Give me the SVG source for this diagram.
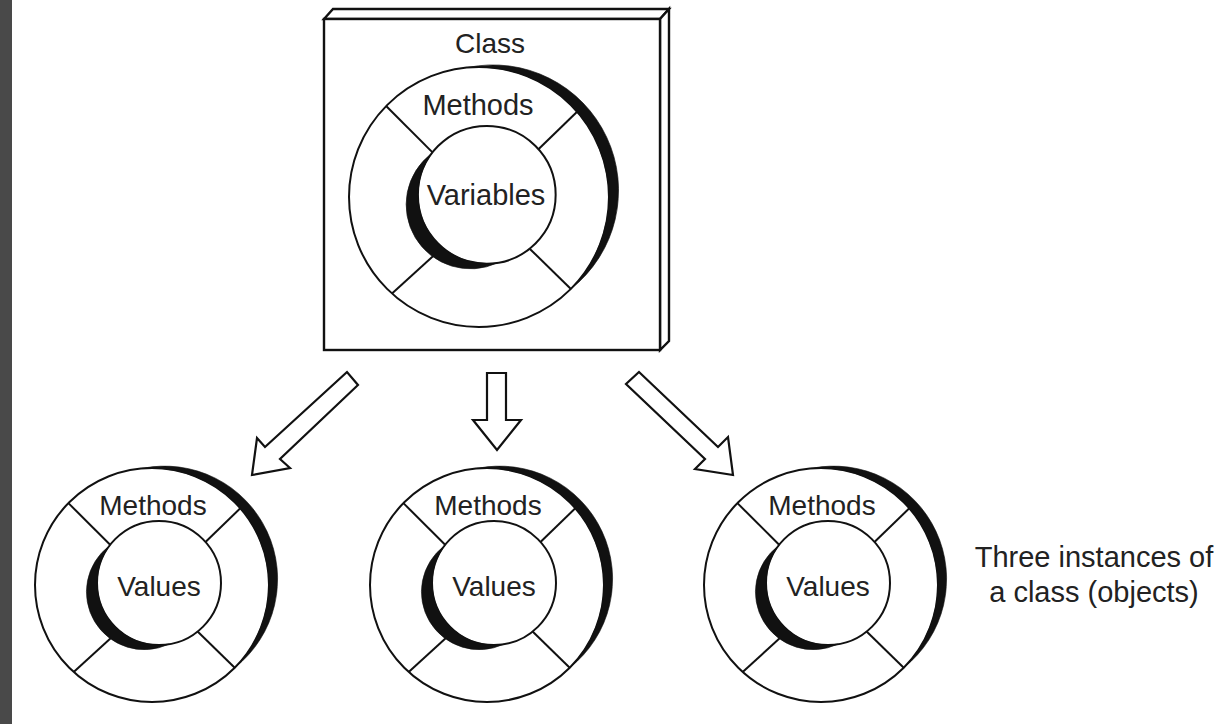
<svg xmlns="http://www.w3.org/2000/svg" xmlns:xlink="http://www.w3.org/1999/xlink" width="1223" height="724" viewBox="0 0 1223 724">
<style>
.t{font-family:"Liberation Sans",Arial,sans-serif;fill:#222;text-anchor:middle}
.ln{stroke:#111;fill:none}
.cres{fill:#111;stroke:#111;stroke-width:0.6}
.arrow{fill:#fff;stroke:#111;stroke-width:2.2;stroke-linejoin:miter}
.box{fill:#fff;stroke:#111;stroke-width:2.4;stroke-linejoin:miter}
</style>
<defs>
<g id="ring">
<line class="ln" x1="-83.6" y1="-81.9" x2="-41.86" y2="-40.17"/>
<line class="ln" x1="88.3" y1="-76.76" x2="53.5" y2="-43.0"/>
<line class="ln" x1="-78.3" y1="86.95" x2="-32.85" y2="45.5"/>
<line class="ln" x1="82.73" y1="82.73" x2="45.6" y2="46.5"/>
<circle class="ln" cx="0" cy="0" r="117"/>
<circle class="ln" cx="7" cy="-2" r="62"/>
<path class="cres" d="M -10.2 -116.55 A 113 113 0 0 1 82.73 82.73 A 117 117 0 0 0 -10.2 -116.55 Z"/>
<path class="cres" d="M 16.70 59.24 A 57.8 57.8 0 0 1 -42.52 -39.31 A 62 62 0 0 0 16.70 59.24 Z"/>
</g>
</defs>
<rect x="0" y="0" width="1223" height="724" fill="#fff"/>
<rect id="left-strip" x="0" y="0" width="12" height="724" fill="#494949"/>
<g id="class">
<polygon class="box" points="324,19 333,9 669,9 660,19"/>
<polygon class="box" points="660,19 669,9 669,341 660,350"/>
<rect class="box" x="324" y="19" width="336" height="331"/>
<use xlink:href="#ring" href="#ring" transform="translate(479,197) scale(1.111)" stroke-width="1.8"/>
<text class="t" x="490" y="53" font-size="28">Class</text>
<text class="t" x="478" y="115" font-size="29">Methods</text>
<text class="t" x="486" y="205" font-size="29">Variables</text>
</g>
<g id="connectors">
<polygon class="arrow" points="347,372 265,447 257,438 252,475 290,468 280,459 358,385"/>
<polygon class="arrow" points="487,373 506,373 506,420 521,420 497,450 473,420 487,420"/>
<polygon class="arrow" points="639,372 718,447 728,437 733,475 695,469 705,459 626,384"/>
</g>
<g id="object-1">
<use xlink:href="#ring" href="#ring" transform="translate(152,585)" stroke-width="2"/>
<text class="t" x="153" y="515" font-size="28">Methods</text>
<text class="t" x="159" y="596" font-size="28">Values</text>
</g>
<g id="object-2">
<use xlink:href="#ring" href="#ring" transform="translate(487,585)" stroke-width="2"/>
<text class="t" x="488" y="515" font-size="28">Methods</text>
<text class="t" x="494" y="596" font-size="28">Values</text>
</g>
<g id="object-3">
<use xlink:href="#ring" href="#ring" transform="translate(821,585)" stroke-width="2"/>
<text class="t" x="822" y="515" font-size="28">Methods</text>
<text class="t" x="828" y="596" font-size="28">Values</text>
</g>
<g id="caption">
<text class="t" x="1094" y="567" font-size="29">Three instances of</text>
<text class="t" x="1094" y="602" font-size="29">a class (objects)</text>
</g>
</svg>
